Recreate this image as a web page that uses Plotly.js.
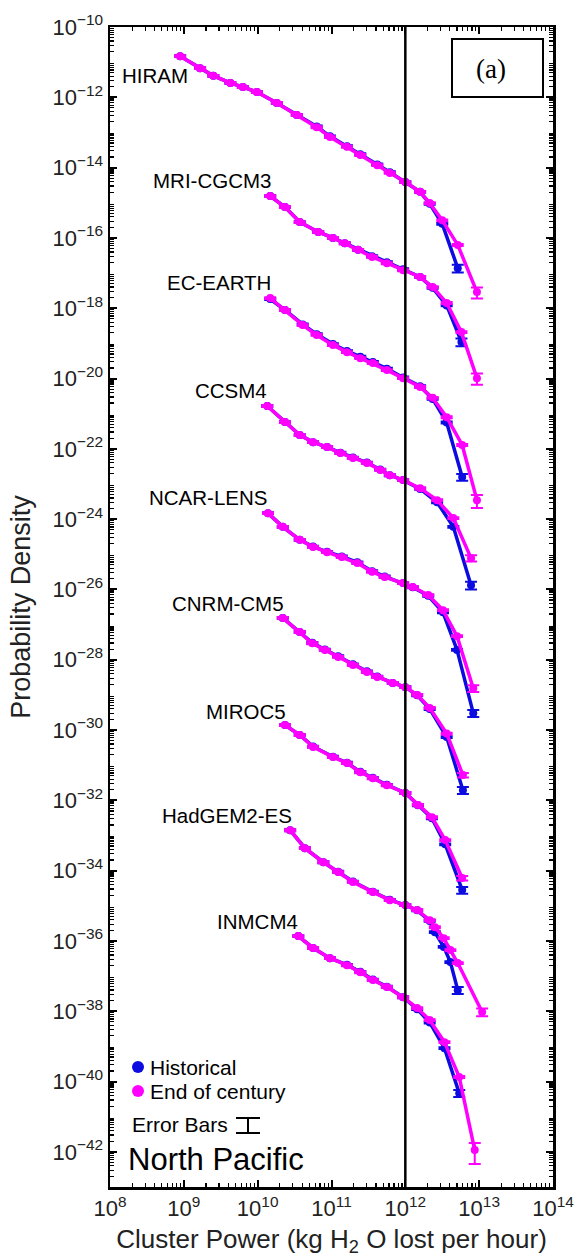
<!DOCTYPE html>
<html>
<head>
<meta charset="utf-8">
<script src="https://cdn.plot.ly/plotly-3.0.1.min.js"></script>
<style>
  html, body { margin: 0; padding: 0; background: #ffffff; }
  #chart { width: 585px; height: 1260px; }
</style>
</head>
<body>
<div id="chart"></div>
<script>
// ---------------- DATA (log10 values) ----------------
const MODEL_NAMES = ['HIRAM', 'MRI-CGCM3', 'EC-EARTH', 'CCSM4', 'NCAR-LENS', 'CNRM-CM5', 'MIROC5', 'HadGEM2-ES', 'INMCM4'];

// log10(cluster power, kg H2O per hour) and log10(probability density)
const hiramLogPower = [8.95, 9.22, 9.40, 9.63, 9.80, 9.99, 10.26, 10.53, 10.80, 10.98, 11.21, 11.39, 11.62, 11.79, 12.00, 12.20, 12.33, 12.50, 12.71, 12.97];
const hiramLogHist  = [-10.83, -11.17, -11.39, -11.59, -11.71, -11.85, -12.16, -12.50, -12.83, -13.11, -13.39, -13.62, -13.91, -14.13, -14.41, -14.69, -15.03, -15.60, -16.86, null];
const hiramLogEoc   = [-10.83, -11.17, -11.39, -11.59, -11.71, -11.85, -12.16, -12.50, -12.85, -13.13, -13.41, -13.64, -13.93, -14.15, -14.41, -14.69, -15.01, -15.50, -16.20, -17.54];

const mriLogPower = [10.17, 10.37, 10.57, 10.82, 11.02, 11.18, 11.36, 11.55, 11.75, 11.97, 12.20, 12.37, 12.56, 12.76, 12.97];
const mriLogHist  = [-14.81, -15.12, -15.55, -15.83, -16.00, -16.15, -16.34, -16.52, -16.69, -16.89, -17.11, -17.42, -17.92, -18.96, null];
const mriLogEoc   = [-14.81, -15.12, -15.55, -15.83, -16.00, -16.15, -16.34, -16.54, -16.72, -16.92, -17.11, -17.40, -17.85, -18.68, -19.99];

const ecLogPower = [10.17, 10.37, 10.61, 10.80, 11.02, 11.21, 11.39, 11.56, 11.75, 11.97, 12.20, 12.37, 12.56, 12.77, 12.97];
const ecLogHist  = [-17.74, -18.05, -18.46, -18.74, -19.02, -19.22, -19.38, -19.53, -19.72, -19.97, -20.22, -20.58, -21.25, -22.80, null];
const ecLogEoc   = [-17.71, -18.05, -18.48, -18.76, -19.05, -19.25, -19.42, -19.56, -19.76, -19.99, -20.24, -20.55, -21.10, -21.89, -23.46];

const ccsmLogPower = [10.13, 10.37, 10.57, 10.75, 10.94, 11.12, 11.29, 11.48, 11.66, 11.79, 11.97, 12.20, 12.43, 12.65, 12.89];
const ccsmLogHist  = [-20.78, -21.24, -21.61, -21.81, -21.95, -22.11, -22.25, -22.39, -22.59, -22.75, -22.89, -23.14, -23.52, -24.22, -25.88];
const ccsmLogEoc   = [-20.78, -21.24, -21.61, -21.81, -21.95, -22.12, -22.26, -22.40, -22.60, -22.75, -22.89, -23.12, -23.46, -23.97, -25.11];

const ncarLogPower = [10.14, 10.34, 10.57, 10.75, 10.94, 11.14, 11.35, 11.55, 11.72, 11.97, 12.10, 12.31, 12.51, 12.70, 12.92];
const ncarLogHist  = [-23.83, -24.22, -24.59, -24.78, -24.93, -25.06, -25.23, -25.48, -25.63, -25.82, -25.94, -26.18, -26.65, -27.72, -29.52];
const ncarLogEoc   = [-23.83, -24.22, -24.59, -24.79, -24.94, -25.08, -25.25, -25.50, -25.65, -25.82, -25.93, -26.16, -26.59, -27.33, -28.81];

const cnrmLogPower = [10.34, 10.57, 10.74, 10.91, 11.09, 11.29, 11.48, 11.62, 11.83, 12.00, 12.16, 12.33, 12.56, 12.78];
const cnrmLogHist  = [-26.81, -27.21, -27.52, -27.71, -27.90, -28.13, -28.33, -28.48, -28.66, -28.78, -29.01, -29.40, -30.20, -31.71];
const cnrmLogEoc   = [-26.81, -27.21, -27.53, -27.72, -27.92, -28.15, -28.35, -28.49, -28.66, -28.78, -29.00, -29.37, -30.10, -31.28];

const mirocLogPower = [10.37, 10.57, 10.75, 11.02, 11.21, 11.39, 11.56, 11.75, 12.00, 12.17, 12.36, 12.54, 12.77];
const mirocLogHist  = [-29.86, -30.14, -30.47, -30.76, -30.93, -31.19, -31.36, -31.56, -31.79, -32.14, -32.51, -33.25, -34.55];
const mirocLogEoc   = [-29.86, -30.14, -30.48, -30.77, -30.94, -31.20, -31.37, -31.57, -31.79, -32.13, -32.48, -33.13, -34.21];

const hadgemLogPower = [10.44, 10.64, 10.89, 11.09, 11.29, 11.56, 11.79, 12.00, 12.16, 12.33, 12.40, 12.52, 12.61, 12.71, 13.04];
const hadgemLogHist  = [-32.85, -33.36, -33.76, -34.03, -34.31, -34.60, -34.83, -34.98, -35.13, -35.43, -35.75, -36.17, -36.60, -37.40, null];
const hadgemLogEoc   = [-32.85, -33.36, -33.76, -34.04, -34.32, -34.61, -34.84, -34.98, -35.12, -35.41, -35.61, -35.92, -36.26, -36.63, -38.02];

const inmLogPower = [10.55, 10.75, 10.98, 11.21, 11.39, 11.56, 11.75, 11.97, 12.16, 12.33, 12.53, 12.73, 12.94];
const inmLogHist  = [-35.86, -36.20, -36.49, -36.68, -36.88, -37.10, -37.30, -37.60, -37.94, -38.32, -39.05, -40.33, null];
const inmLogEoc   = [-35.86, -36.20, -36.49, -36.69, -36.89, -37.11, -37.31, -37.60, -37.91, -38.25, -38.88, -39.87, -41.95];

// relative error of the last (tail) point of each curve, and of all other points
const BASE_REL_ERR = 0.06;
const histEndErr = [0.25, 0.25, 0.22, 0.25, 0.22, 0.22, 0.22, 0.22, 0.22];
const eocEndErr  = [0.35, 0.35, 0.40, 0.20, 0.22, 0.15, 0.15, 0.25, 0.60];

const THRESHOLD_POWER = 1e12;

const X_TICK_EXP = [8, 9, 10, 11, 12, 13, 14];
const Y_LABELLED_EXP = [-10, -12, -14, -16, -18, -20, -22, -24, -26, -28, -30, -32, -34, -36, -38, -40, -42];
const Y_UNLABELLED_EXP = [-11, -13, -15, -17, -19, -21, -23, -25, -27, -29, -31, -33, -35, -37, -39, -41, -43];

// ---------------- BUILD ----------------
const SERIES = [
  [hiramLogPower, hiramLogHist, hiramLogEoc],
  [mriLogPower, mriLogHist, mriLogEoc],
  [ecLogPower, ecLogHist, ecLogEoc],
  [ccsmLogPower, ccsmLogHist, ccsmLogEoc],
  [ncarLogPower, ncarLogHist, ncarLogEoc],
  [cnrmLogPower, cnrmLogHist, cnrmLogEoc],
  [mirocLogPower, mirocLogHist, mirocLogEoc],
  [hadgemLogPower, hadgemLogHist, hadgemLogEoc],
  [inmLogPower, inmLogHist, inmLogEoc]
];

const BLUE = 'rgb(12,12,225)';
const MAGENTA = 'rgb(255,0,255)';

const toLin = arr => arr.map(v => (v === null ? null : Math.pow(10, v)));
function errArr(logVals, endErr) {
  let last = -1;
  logVals.forEach((v, i) => { if (v !== null) last = i; });
  return logVals.map((v, i) => (v === null ? null : Math.pow(10, v) * (i === last ? endErr : BASE_REL_ERR)));
}
function makeTrace(name, logX, logY, color, endErr) {
  const e = errArr(logY, endErr);
  return {
    type: 'scatter', mode: 'lines+markers', name: name,
    x: toLin(logX), y: toLin(logY),
    line: { color: color, width: 3.5 },
    marker: { color: color, size: 8 },
    error_y: { type: 'data', symmetric: false, array: e, arrayminus: e, color: color, thickness: 2, width: 6 },
    connectgaps: false, hoverinfo: 'skip'
  };
}

const traces = [];
SERIES.forEach((s, i) => traces.push(makeTrace(MODEL_NAMES[i] + ' historical', s[0], s[1], BLUE, histEndErr[i])));
SERIES.forEach((s, i) => traces.push(makeTrace(MODEL_NAMES[i] + ' end of century', s[0], s[2], MAGENTA, eocEndErr[i])));

// tick setup
const xTickVals = X_TICK_EXP.map(e => Math.pow(10, e));
const xTickText = X_TICK_EXP.map(e => '10<sup>' + e + '</sup>');
const yTickVals = Y_LABELLED_EXP.map(e => Math.pow(10, e));
const yTickText = Y_LABELLED_EXP.map(e => '10<sup>' + String(e).replace('-', '\u2212') + '</sup>');
const yOddVals = Y_UNLABELLED_EXP.map(e => Math.pow(10, e));
const xMinor = [], yMinor = [];
for (let e = 8; e < 14; e++) for (let d = 2; d <= 9; d++) xMinor.push(d * Math.pow(10, e));
for (let e = -43; e < -10; e++) for (let d = 2; d <= 9; d++) yMinor.push(d * Math.pow(10, e));

// pixel -> paper helpers (plot area: x 110..553, y 27..1187)
const ML = 110, MR = 32, MT = 27, MB = 73, W = 585, H = 1260;
const PW = W - ML - MR, PH = H - MT - MB;
const px = p => (p - ML) / PW;
const py = p => (H - MB - p) / PH;

// model label positions (right edge px, centre y px)
const LABEL_POS = [[190, 76], [273, 180], [273, 282], [269, 390], [269, 497], [286, 603], [288, 712], [294, 815], [300, 921]];

const annotations = MODEL_NAMES.map((n, i) => ({
  text: n, xref: 'paper', yref: 'paper', x: px(LABEL_POS[i][0]), y: py(LABEL_POS[i][1]),
  xanchor: 'right', yanchor: 'middle', showarrow: false,
  font: { family: 'Liberation Sans, Arial, sans-serif', size: 20.5, color: '#000' }
}));
annotations.push(
  { text: 'Historical', xref: 'paper', yref: 'paper', x: px(148), y: py(1067), xanchor: 'left', yanchor: 'middle', showarrow: false, font: { size: 21, color: '#000' } },
  { text: 'End of century', xref: 'paper', yref: 'paper', x: px(148), y: py(1091), xanchor: 'left', yanchor: 'middle', showarrow: false, font: { size: 21, color: '#000' } },
  { text: 'Error Bars', xref: 'paper', yref: 'paper', x: px(130), y: py(1124), xanchor: 'left', yanchor: 'middle', showarrow: false, font: { size: 21, color: '#000' } },
  { text: 'North Pacific', xref: 'paper', yref: 'paper', x: px(126), y: py(1159), xanchor: 'left', yanchor: 'middle', showarrow: false, font: { size: 31, color: '#000' } },
  { text: '(a)', xref: 'paper', yref: 'paper', x: px(491), y: py(69), xanchor: 'center', yanchor: 'middle', showarrow: false, font: { family: 'Liberation Serif, Times New Roman, serif', size: 27, color: '#000' } }
);

const shapes = [
  { type: 'line', xref: 'x', yref: 'paper', x0: THRESHOLD_POWER, x1: THRESHOLD_POWER, y0: 0, y1: 1, line: { color: '#000', width: 2.5 } },
  { type: 'rect', xref: 'paper', yref: 'paper', x0: px(452), x1: px(543), y0: py(97), y1: py(39), line: { color: '#000', width: 2 }, fillcolor: 'rgba(0,0,0,0)' },
  { type: 'circle', xref: 'paper', yref: 'paper', x0: px(132), x1: px(144), y0: py(1073), y1: py(1061), line: { color: BLUE, width: 0 }, fillcolor: BLUE },
  { type: 'circle', xref: 'paper', yref: 'paper', x0: px(132), x1: px(144), y0: py(1097), y1: py(1085), line: { color: MAGENTA, width: 0 }, fillcolor: MAGENTA },
  { type: 'line', xref: 'paper', yref: 'paper', x0: px(236), x1: px(260), y0: py(1118), y1: py(1118), line: { color: '#000', width: 2 } },
  { type: 'line', xref: 'paper', yref: 'paper', x0: px(236), x1: px(260), y0: py(1133), y1: py(1133), line: { color: '#000', width: 2 } },
  { type: 'line', xref: 'paper', yref: 'paper', x0: px(248), x1: px(248), y0: py(1118), y1: py(1133), line: { color: '#000', width: 2 } }
];

const layout = {
  width: W, height: H,
  margin: { l: ML, r: MR, t: MT, b: MB, pad: 0 },
  paper_bgcolor: '#ffffff', plot_bgcolor: '#ffffff',
  showlegend: false,
  font: { family: 'Liberation Sans, Arial, sans-serif', size: 22, color: '#222' },
  xaxis: {
    type: 'log', range: [8, 14], tickmode: 'array', tickvals: xTickVals, ticktext: xTickText,
    ticks: 'inside', ticklen: 7, tickwidth: 2, tickcolor: '#000',
    showline: true, linecolor: '#000', linewidth: 2.5, mirror: 'ticks',
    showgrid: false, zeroline: false, automargin: false,
    tickfont: { size: 22, color: '#222' },
    minor: { tickvals: xMinor, ticks: 'inside', ticklen: 4, tickwidth: 1.2, tickcolor: '#000', showgrid: false },
    title: { text: 'Cluster Power (kg H<sub>2</sub> O lost per hour)', font: { size: 26, color: '#222' }, standoff: 10 }
  },
  yaxis: {
    type: 'log', range: [-43, -10], tickmode: 'array', tickvals: yTickVals, ticktext: yTickText,
    ticks: 'inside', ticklen: 7, tickwidth: 2, tickcolor: '#000',
    showline: true, linecolor: '#000', linewidth: 2.5, mirror: 'ticks',
    showgrid: false, zeroline: false, automargin: false,
    tickfont: { size: 22, color: '#222' },
    minor: { tickvals: yMinor, ticks: 'inside', ticklen: 4, tickwidth: 1.2, tickcolor: '#000', showgrid: false },
    title: { text: 'Probability Density', font: { size: 27, color: '#222' }, standoff: 14 }
  },
  yaxis2: {
    type: 'log', range: [-43, -10], overlaying: 'y', anchor: 'x', side: 'left',
    tickmode: 'array', tickvals: yOddVals, showticklabels: false,
    ticks: 'inside', ticklen: 7, tickwidth: 2, tickcolor: '#000',
    showline: false, mirror: 'ticks', showgrid: false, zeroline: false, automargin: false
  },
  annotations: annotations,
  shapes: shapes
};

Plotly.newPlot('chart', traces, layout, { displayModeBar: false, staticPlot: true });
</script>
</body>
</html>
